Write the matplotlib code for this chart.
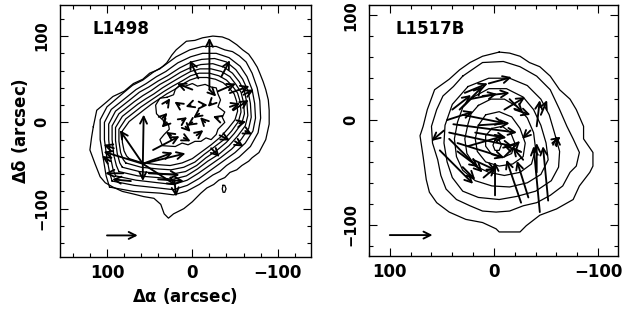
import matplotlib
matplotlib.use('Agg')
import matplotlib.pyplot as plt
from matplotlib.ticker import MultipleLocator

plt.rcParams['font.family'] = 'DejaVu Sans'
plt.rcParams['font.weight'] = 'bold'
plt.rcParams['axes.labelweight'] = 'bold'

# ---------------- L1498: intensity contours (arcsec offsets) ----------------
l1498_contours = [
    [(116, -5), (112, 14), (100, 24), (93, 30), (80, 36), (69, 45), (58, 50), (50, 57), (38, 62),
     (30, 69), (24, 78), (19, 84), (7, 94), (-3, 95), (-12, 98), (-24, 100), (-35, 99), (-43, 96),
     (-52, 90), (-59, 84), (-66, 79), (-71, 72), (-76, 64), (-79, 57), (-83, 47), (-86, 38),
     (-89, 26), (-90, 14), (-90, -2), (-86, -20), (-78, -35), (-70, -41), (-66, -45), (-58, -50),
     (-52, -55), (-44, -58), (-38, -64), (-31, -67), (-25, -72), (-17, -76), (-10, -82), (0, -92),
     (10, -100), (22, -106), (28, -111), (33, -106), (37, -95), (45, -88), (57, -86), (69, -83),
     (82, -80), (93, -75), (102, -70), (108, -63), (114, -48), (120, -32), (118, -17)],
    [(97, -75), (69, -80), (38, -82), (22, -84), (7, -80), (-8, -72), (-24, -61), (-32, -57),
     (-40, -50), (-55, -40), (-68, -28), (-77, -12), (-80, 5), (-79, 25), (-76, 40), (-70, 57),
     (-63, 70), (-55, 77), (-47, 82), (-38, 84), (-28, 88), (-12, 88), (3, 84), (19, 76), (34, 65),
     (46, 58), (58, 49), (70, 43), (81, 34), (100, 18), (108, 3), (108, -20), (104, -44),
     (101, -62)],
    [(94, -68), (68, -73), (40, -76), (22, -78), (6, -73), (-8, -65), (-22, -55), (-36, -45),
     (-50, -35), (-62, -24), (-71, -10), (-74, 5), (-73, 22), (-70, 38), (-64, 53), (-56, 65),
     (-43, 75), (-28, 80), (-12, 80), (2, 76), (17, 69), (31, 59), (42, 53), (54, 45), (66, 38),
     (76, 30), (95, 15), (103, 0), (103, -20), (100, -42), (97, -58)],
    [(90, -62), (66, -67), (40, -70), (22, -72), (6, -67), (-7, -59), (-20, -50), (-33, -41),
     (-46, -31), (-57, -20), (-66, -7), (-69, 6), (-68, 22), (-65, 37), (-59, 50), (-51, 61),
     (-40, 70), (-26, 74), (-11, 73), (1, 70), (15, 63), (29, 54), (40, 48), (51, 41), (62, 35),
     (72, 27), (90, 13), (98, -2), (98, -20), (96, -40), (93, -54)],
    [(86, -57), (64, -62), (40, -64), (23, -66), (7, -62), (-6, -54), (-18, -45), (-31, -37),
     (-43, -27), (-53, -16), (-62, -4), (-65, 8), (-64, 22), (-61, 36), (-55, 47), (-47, 57),
     (-37, 64), (-24, 68), (-10, 67), (1, 64), (14, 58), (27, 50), (38, 44), (48, 37), (58, 31),
     (68, 24), (86, 10), (94, -4), (94, -20), (92, -38), (89, -50)],
    [(82, -52), (62, -57), (40, -59), (24, -60), (8, -57), (-5, -50), (-16, -41), (-28, -33),
     (-40, -23), (-49, -13), (-58, -1), (-61, 10), (-60, 23), (-57, 35), (-51, 44), (-44, 53),
     (-34, 59), (-22, 62), (-9, 62), (2, 59), (13, 53), (25, 46), (35, 40), (45, 33), (55, 27),
     (64, 21), (82, 7), (90, -6), (90, -21), (88, -36), (85, -47)],
    [(78, -47), (60, -52), (40, -54), (25, -55), (10, -52), (-3, -46), (-14, -37), (-25, -29),
     (-37, -20), (-46, -10), (-54, 1), (-57, 12), (-56, 24), (-53, 34), (-47, 42), (-40, 49),
     (-31, 54), (-20, 57), (-8, 57), (2, 54), (12, 48), (23, 42), (33, 36), (42, 30), (51, 24),
     (60, 18), (78, 4), (86, -8), (86, -22), (84, -35), (81, -43)],
    [(74, -42), (58, -47), (40, -49), (26, -50), (12, -47), (0, -42), (-11, -34), (-22, -26),
     (-33, -17), (-42, -7), (-50, 3), (-53, 13), (-52, 24), (-49, 33), (-43, 40), (-36, 46),
     (-27, 50), (-17, 52), (-6, 52), (3, 49), (12, 44), (21, 38), (30, 33), (39, 27), (48, 21),
     (56, 15), (74, 1), (82, -10), (82, -23), (80, -33), (77, -39)],
    [(30, 29), (38, 28), (43, 20), (42, 10), (35, 3), (28, -2), (27, -8), (33, -14), (38, -20),
     (35, -27), (20, -28), (12, -24), (5, -26), (-3, -22), (-10, -22), (-16, -18), (-22, -20),
     (-28, -14), (-30, -8), (-33, -5), (-38, 0), (-35, 6), (-38, 12), (-30, 18), (-33, 26),
     (-30, 33), (-28, 40), (-22, 41), (-15, 44), (-6, 42), (0, 45), (8, 42), (15, 43), (20, 38),
     (22, 32)],
    [(-36, -73), (-38, -73), (-39.5, -77), (-38, -81), (-36, -81), (-35, -77)],
]

# velocity vectors: tail x, tail y, dx, dy (arcsec)
l1498_vec_x = [-20, -7, -34, -30, -44, -44, -48, -55, -32, 0, -20,
               30, 15, 2, -12, -22, -15, 0, 12, 30, -30, 10, 25, -5,
               58, 58, 58, 58, 58, 58, 58, 46, 21, 81, 51, 92, 96,
               -60, -62, -50, -22, 40, 72, 35, -8, 8]
l1498_vec_y = [38, 51, 53, 36, 34, 18, 14, -1, -15, 38, 38,
               22, 20, 20, 20, 22, 0, 0, 2, 0, 5, -18, -15, -15,
               -48, -48, -48, -48, -48, -48, -48, -32, -67, -59, -59, -30, -45,
               32, -10, -22, -30, -66, -68, 5, 10, -5]
l1498_vec_dx = [0, 10, -10, -21, -23, -12, -18, -8, -12, 18, -8,
                -4, 6, 6, -6, 4, 6, 6, -6, 6, 6, -8, 6, -8,
                -1, 27, 46, -39, -50, -35, 0, -31, -2, 21, -36, 12, 10,
                -12, -8, -10, -10, -30, 22, -6, 7, -6]
l1498_vec_dy = [60, 21, 19, 9, 8, 4, 12, 2, -6, 7, -8,
                6, 4, -2, 0, -4, 6, -4, 4, -6, 2, -4, 4, 6,
                57, 39, 14, -25, 12, 13, -20, 16, -19, 0, -2, 4, 6,
                6, -4, -6, -10, -2, 2, 6, -5, -6]

# ---------------- L1517B ----------------
l1517_contours = [
    [(-5, 65), (-15, 64), (-25, 61), (-34, 55), (-44, 51), (-54, 42), (-63, 29), (-73, 20),
     (-79, 10), (-86, -6), (-86, -18), (-95, -31), (-95, -44), (-92, -50), (-82, -63), (-76, -76),
     (-60, -85), (-44, -91), (-31, -101), (-25, -107), (-5, -107), (-2, -104), (11, -98),
     (27, -95), (43, -88), (55, -79), (62, -69), (65, -57), (68, -35), (71, -15), (68, -6),
     (64, 10), (57, 29), (43, 39), (33, 48), (23, 55), (11, 61)],
    [(30, 42), (11, 55), (-9, 56), (-25, 51), (-41, 42), (-54, 29), (-63, 10), (-70, -6),
     (-76, -18), (-82, -31), (-79, -44), (-73, -50), (-66, -63), (-54, -72), (-41, -79),
     (-28, -82), (-15, -87), (-2, -88), (11, -87), (23, -82), (36, -76), (46, -66), (51, -53),
     (54, -38), (59, -22), (60, -6), (55, 10), (49, 23), (39, 32)],
    [(25, 32), (5, 40), (-15, 40), (-32, 33), (-45, 20), (-53, 5), (-58, -12), (-63, -30),
     (-62, -45), (-55, -58), (-40, -68), (-22, -73), (-5, -76), (15, -74), (30, -68),
     (40, -55), (45, -40), (48, -22), (47, -5), (40, 15)],
    [(20, 22), (5, 30), (-12, 30), (-28, 22), (-38, 10), (-45, -5), (-50, -22), (-52, -38),
     (-45, -52), (-32, -60), (-15, -64), (2, -63), (18, -58), (30, -48), (36, -35), (38, -18),
     (35, -2), (30, 12)],
    [(15, 14), (3, 20), (-10, 20), (-22, 13), (-32, 2), (-38, -12), (-40, -28), (-36, -42),
     (-25, -50), (-10, -53), (5, -50), (18, -44), (26, -32), (28, -18), (25, -4), (22, 6)],
    [(8, 5), (-5, 8), (-17, 3), (-25, -8), (-30, -22), (-28, -35), (-18, -42), (-5, -44),
     (8, -40), (16, -30), (18, -18), (15, -5)],
    [(2, -8), (-8, -6), (-16, -12), (-20, -22), (-17, -32), (-8, -36), (2, -33), (8, -25),
     (8, -15)],
    [(-1, -19), (-5, -19), (-7, -24), (-5, -29), (-1, -29), (1, -24)],
]

l1517_vec_x = [-1, -26, -33, -44, -52, -41, 52, 43, 39, 43, 35, 33, 23, 11, -15, -41,
               -60, -56, 28, 48, 15, -25, 20, -45, -10, 5, 30, 40,
               30, 25, -10, 35, -20, -35, 45, 18, -28, 10]
l1517_vec_y = [-72, -79, -74, -88, -77, -50, -29, -18, -4, -12, -22, 10, 20, 23, 20, -6,
               -25, -22, 26, -10, -5, -30, -38, 5, 10, 35, -45, 10,
               5, -25, -35, -30, 10, -10, 0, -12, -38, -55]
l1517_vec_dx = [0, 14, 11, 6, 5, 0, -32, -32, -61, -61, -45, -22, -26, -26, -13, -3,
                0, -8, -22, 12, -30, 16, -22, -6, -20, -22, -12, -18,
                -40, -35, -15, -20, -15, 8, -25, -30, 10, -12]
l1517_vec_dy = [32, 41, 35, 63, 52, 28, -32, -32, -8, -13, -14, 22, 5, 3, -13, 25,
                10, 6, 9, -10, 2, 6, -10, 14, 12, 6, -12, 14,
                -8, 10, 15, -15, -5, -8, 8, -5, 12, 10]

panels = [
    dict(name='L1498', contours=l1498_contours,
         vx=l1498_vec_x, vy=l1498_vec_y, vdx=l1498_vec_dx, vdy=l1498_vec_dy,
         xlim=(155, -139), ylim=(-156, 136), ref=(100, -131, -36),
         rect=[0.0962, 0.1683, 0.4022, 0.8155], label_x=0.128),
    dict(name='L1517B', contours=l1517_contours,
         vx=l1517_vec_x, vy=l1517_vec_y, vdx=l1517_vec_dx, vdy=l1517_vec_dy,
         xlim=(120, -119), ylim=(-130, 110), ref=(100, -110, -41),
         rect=[0.5913, 0.1715, 0.3990, 0.8123], label_x=0.105),
]

fig = plt.figure(figsize=(6.24, 3.09), dpi=100)
arrow_kw = dict(arrowstyle='->,head_length=0.5,head_width=0.25', lw=1.35,
                color='black', shrinkA=0, shrinkB=0, mutation_scale=10)

for i, p in enumerate(panels):
    ax = fig.add_axes(p['rect'])
    for c in p['contours']:
        xs = [pt[0] for pt in c] + [c[0][0]]
        ys = [pt[1] for pt in c] + [c[0][1]]
        ax.plot(xs, ys, color='black', lw=0.9)
    for x, y, dx, dy in zip(p['vx'], p['vy'], p['vdx'], p['vdy']):
        ax.annotate('', xy=(x + dx, y + dy), xytext=(x, y), arrowprops=arrow_kw)
    rx, ry, rdx = p['ref']
    ax.annotate('', xy=(rx + rdx, ry), xytext=(rx, ry), arrowprops=arrow_kw)

    ax.set_xlim(*p['xlim'])
    ax.set_ylim(*p['ylim'])
    ax.xaxis.set_major_locator(MultipleLocator(100))
    ax.yaxis.set_major_locator(MultipleLocator(100))
    ax.xaxis.set_minor_locator(MultipleLocator(20))
    ax.yaxis.set_minor_locator(MultipleLocator(20))
    ax.tick_params(which='both', direction='in', top=True, right=True, width=0.8)
    ax.tick_params(which='major', length=5.5)
    ax.tick_params(which='minor', length=2.8)
    ax.tick_params(axis='x', pad=5, labelsize=12)
    ax.tick_params(axis='y', pad=7.5, labelsize=10.5)
    for lab in ax.get_yticklabels():
        lab.set_rotation(90)
        lab.set_va('center')
    for s in ax.spines.values():
        s.set_linewidth(1.0)
    ax.text(p['label_x'], 0.905, p['name'], transform=ax.transAxes, fontsize=12,
            fontweight='bold', ha='left', va='center')
    if i == 0:
        ax.set_xlabel(r'$\mathbf{\Delta\alpha}$ (arcsec)', fontsize=12, labelpad=3)
        ax.set_ylabel(r'$\mathbf{\Delta\delta}$ (arcsec)', fontsize=12, labelpad=3)

fig.savefig('out.png', dpi=100)
